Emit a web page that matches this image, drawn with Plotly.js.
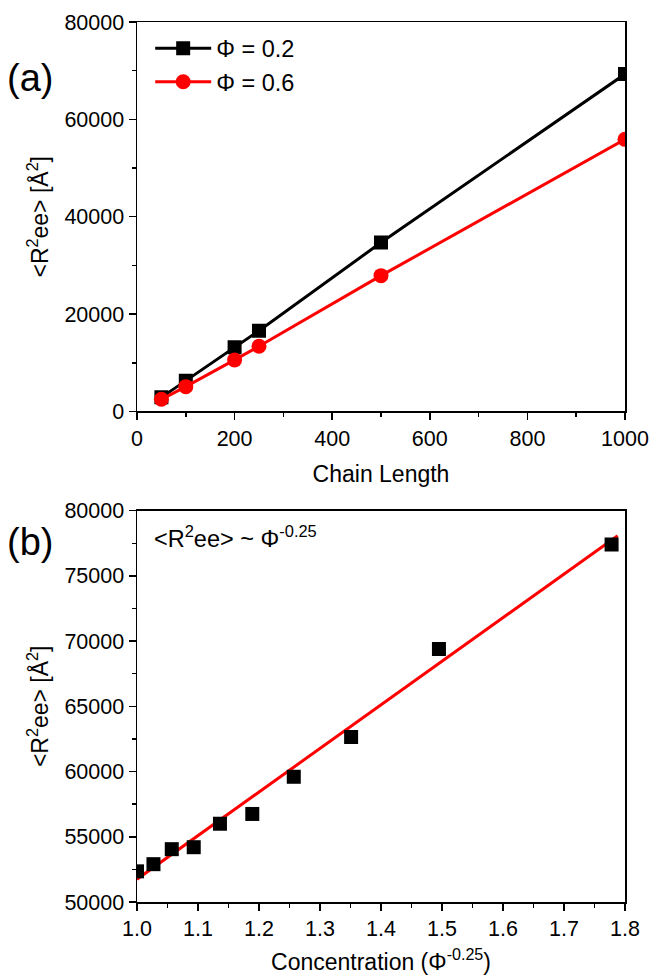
<!DOCTYPE html>
<html>
<head>
<meta charset="utf-8">
<script src="https://cdn.plot.ly/plotly-3.0.1.min.js"></script>
<style>html,body{margin:0;padding:0;background:#fff;}#chart{width:650px;height:975px;}</style>
</head>
<body>
<div id="chart"></div>
<script>
// Panel (a): <R2ee> vs chain length
var chainLength = [50, 100, 200, 250, 500, 1000];
var r2eePhi02 = [2900, 6300, 13200, 16600, 34700, 69300];
var r2eePhi06 = [2500, 5100, 10600, 13400, 27900, 55900];
var seriesNames = ['\u03A6 = 0.2', '\u03A6 = 0.6'];

// Panel (b): <R2ee> vs concentration (Phi^-0.25)
var concX = [1.0, 1.027, 1.057, 1.093, 1.136, 1.189, 1.257, 1.351, 1.495, 1.778];
var concY = [52350, 52900, 54050, 54200, 56000, 56750, 59600, 62650, 69400, 77400];
var fitX = [1.0, 1.788];
var fitY = [51750, 78080];

var FONT = 'Liberation Sans, Arial, sans-serif';

var traces = [
  {x: chainLength, y: r2eePhi02, name: seriesNames[0], type: 'scatter', mode: 'lines+markers',
   line: {color: '#000000', width: 3}, marker: {symbol: 'square', size: 14, color: '#000000'},
   xaxis: 'x', yaxis: 'y'},
  {x: chainLength, y: r2eePhi06, name: seriesNames[1], type: 'scatter', mode: 'lines+markers',
   line: {color: '#ff0000', width: 3}, marker: {symbol: 'circle', size: 15, color: '#ff0000'},
   xaxis: 'x', yaxis: 'y'},
  {x: fitX, y: fitY, type: 'scatter', mode: 'lines', showlegend: false,
   line: {color: '#ff0000', width: 3}, xaxis: 'x2', yaxis: 'y2'},
  {x: concX, y: concY, type: 'scatter', mode: 'markers', showlegend: false,
   marker: {symbol: 'square', size: 14, color: '#000000'}, xaxis: 'x2', yaxis: 'y2'}
];

function axisBase(extra) {
  var a = {
    showgrid: false, zeroline: false, showline: true, mirror: true,
    linecolor: '#000', linewidth: 1.5,
    ticks: 'outside', ticklen: 7, tickwidth: 1.5, tickcolor: '#000',
    tickfont: {family: FONT, size: 21.5, color: '#000'}
  };
  for (var k in extra) a[k] = extra[k];
  return a;
}
function minorTicks(dt) {
  return {ticks: 'outside', ticklen: 4, tickwidth: 1.5, tickcolor: '#000', dtick: dt};
}

var yTitle = '&lt;R<sup>2</sup>ee&gt; [\u00C5<sup>2</sup>]';
var titleFont = {family: FONT, size: 23, color: '#000'};

var layout = {
  width: 650, height: 975,
  margin: {l: 137, r: 25, t: 22, b: 73},
  paper_bgcolor: '#fff', plot_bgcolor: '#fff',
  font: {family: FONT, color: '#000'},
  showlegend: true,
  legend: {x: 0.027, y: 0.995, xanchor: 'left', yanchor: 'top', bgcolor: 'rgba(0,0,0,0)',
           itemwidth: 56, font: {family: FONT, size: 23.5, color: '#000'}, tracegroupgap: 0},
  xaxis: axisBase({domain: [0, 1], anchor: 'y', range: [0, 1000], tick0: 0, dtick: 200, tickformat: 'd',
    minor: minorTicks(100),
    title: {text: 'Chain Length', font: titleFont, standoff: 16}}),
  yaxis: axisBase({domain: [0.5574, 1], anchor: 'x', range: [0, 80000], tick0: 0, dtick: 20000, tickformat: 'd',
    minor: minorTicks(10000),
    title: {text: yTitle, font: titleFont, standoff: 9}}),
  xaxis2: axisBase({domain: [0, 1], anchor: 'y2', range: [1.0, 1.8], tick0: 1.0, dtick: 0.1, tickformat: '.1f',
    minor: minorTicks(0.05),
    title: {text: 'Concentration (\u03A6<sup>-0.25</sup>)', font: titleFont, standoff: 17}}),
  yaxis2: axisBase({domain: [0, 0.4447], anchor: 'x2', range: [50000, 80000], tick0: 50000, dtick: 5000, tickformat: 'd',
    minor: minorTicks(2500),
    title: {text: yTitle, font: titleFont, standoff: 9}}),
  annotations: [
    {text: '(a)', xref: 'paper', yref: 'paper', x: -0.219, y: 0.936, xanchor: 'center', yanchor: 'middle',
     showarrow: false, font: {family: FONT, size: 38, color: '#000'}},
    {text: '(b)', xref: 'paper', yref: 'paper', x: -0.219, y: 0.409, xanchor: 'center', yanchor: 'middle',
     showarrow: false, font: {family: FONT, size: 38, color: '#000'}},
    {text: '&lt;R<sup>2</sup>ee&gt; ~ \u03A6<sup>-0.25</sup>', xref: 'x2 domain', yref: 'y2 domain',
     x: 0.03, y: 0.933, xanchor: 'left', yanchor: 'middle', showarrow: false,
     font: {family: FONT, size: 23.5, color: '#000'}}
  ]
};

Plotly.newPlot('chart', traces, layout, {displayModeBar: false, staticPlot: true});
</script>
</body>
</html>
